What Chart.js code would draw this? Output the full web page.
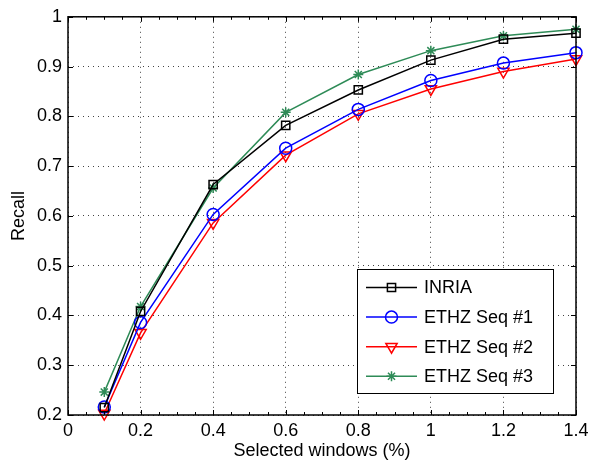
<!DOCTYPE html>
<html><head><meta charset="utf-8">
<script src="https://cdn.jsdelivr.net/npm/chart.js@4/dist/chart.umd.min.js"></script>
<style>html,body{margin:0;padding:0;background:#fff}#wrap{width:597px;height:462px}</style>
</head><body><div id="wrap"><canvas id="c" width="597" height="462"></canvas></div>
<script>
const xValues = [0.1, 0.2, 0.4, 0.6, 0.8, 1.0, 1.2, 1.4];
const inria = [0.215, 0.408, 0.663, 0.782, 0.853, 0.913, 0.955, 0.967];
const ethz1 = [0.216, 0.386, 0.603, 0.736, 0.814, 0.872, 0.907, 0.928];
const ethz2 = [0.203, 0.365, 0.586, 0.722, 0.805, 0.855, 0.890, 0.915];
const ethz3 = [0.246, 0.418, 0.656, 0.808, 0.884, 0.932, 0.962, 0.975];
const seriesNames = ['INRIA', 'ETHZ Seq #1', 'ETHZ Seq #2', 'ETHZ Seq #3'];
const xTicks = [0, 0.2, 0.4, 0.6, 0.8, 1, 1.2, 1.4];
const yTicks = [0.2, 0.3, 0.4, 0.5, 0.6, 0.7, 0.8, 0.9, 1];

const FONT = '"Liberation Sans", Arial, sans-serif';
const FS = 18;
const pts = arr => xValues.map((x, i) => ({x, y: arr[i]}));
const styles = [
  {color: '#000000', pointStyle: 'rect', radius: 5.8, rotation: 0},
  {color: '#0000ff', pointStyle: 'circle', radius: 6, rotation: 0},
  {color: '#ff0000', pointStyle: 'triangle', radius: 6.5, rotation: 180},
  {color: '#2e8b57', pointStyle: 'star', radius: 5, rotation: 0}
];
const allData = [inria, ethz1, ethz2, ethz3];
const datasets = allData.map((d, i) => ({
  label: seriesNames[i],
  data: pts(d),
  borderColor: styles[i].color,
  backgroundColor: 'rgba(0,0,0,0)',
  borderWidth: 1.5,
  pointStyle: styles[i].pointStyle,
  pointRadius: styles[i].radius,
  pointRotation: styles[i].rotation,
  pointBorderWidth: 1.5,
  pointBorderColor: styles[i].color,
  pointBackgroundColor: 'rgba(0,0,0,0)',
  tension: 0,
  clip: false
}));

const framePlugin = {
  id: 'frame',
  afterDatasetsDraw(chart) {
    const ctx = chart.ctx, a = chart.chartArea;
    const xs = chart.scales.x, ys = chart.scales.y;
    ctx.save();
    ctx.strokeStyle = '#000';
    ctx.lineWidth = 1.5;
    ctx.strokeRect(a.left, a.top, a.right - a.left, a.bottom - a.top);
    ctx.lineWidth = 1;
    ctx.beginPath();
    for (let v = 0; v <= 1.4001; v += 0.05) {
      const px = Math.round(xs.getPixelForValue(v)) + 0.5;
      const major = Math.abs(v / 0.2 - Math.round(v / 0.2)) < 1e-6;
      const len = major ? 5 : 3;
      ctx.moveTo(px, a.bottom); ctx.lineTo(px, a.bottom - len);
      ctx.moveTo(px, a.top); ctx.lineTo(px, a.top + len);
    }
    yTicks.forEach(v => {
      const py = Math.round(ys.getPixelForValue(v)) + 0.5;
      ctx.moveTo(a.left, py); ctx.lineTo(a.left + 5, py);
      ctx.moveTo(a.right, py); ctx.lineTo(a.right - 5, py);
    });
    ctx.stroke();

    // legend
    const bw = 196, bh = 124;
    const bx = a.right - 23 - bw, by = a.bottom - 22 - bh;
    ctx.fillStyle = '#fff';
    ctx.fillRect(bx, by, bw, bh);
    ctx.lineWidth = 1;
    ctx.strokeStyle = '#000';
    ctx.strokeRect(bx + 0.5, by + 0.5, bw, bh);
    ctx.font = FS + 'px ' + FONT;
    ctx.textBaseline = 'middle';
    ctx.textAlign = 'left';
    chart.data.datasets.forEach((ds, i) => {
      const cy = by + 18.5 + i * 29.6;
      ctx.strokeStyle = ds.borderColor;
      ctx.lineWidth = 1.5;
      ctx.beginPath();
      ctx.moveTo(bx + 9, cy); ctx.lineTo(bx + 60, cy);
      ctx.stroke();
      ctx.fillStyle = 'rgba(0,0,0,0)';
      Chart.helpers.drawPoint(ctx, {
        pointStyle: ds.pointStyle, radius: ds.pointRadius,
        rotation: ds.pointRotation, borderWidth: 1.5
      }, bx + 34.5, cy);
      ctx.fillStyle = '#000';
      ctx.fillText(ds.label, bx + 67, cy + 1);
    });
    ctx.restore();
  }
};

new Chart(document.getElementById('c'), {
  type: 'line',
  data: {datasets},
  options: {
    responsive: false,
    animation: false,
    layout: {padding: {left: 0, right: 21, top: 16, bottom: 0}},
    plugins: {legend: {display: false}, tooltip: {enabled: false}},
    scales: {
      x: {
        type: 'linear', min: 0, max: 1.4,
        afterBuildTicks: s => { s.ticks = xTicks.map(v => ({value: v})); },
        afterFit: s => { s.height = 47; },
        grid: {color: '#444', lineWidth: 1, drawTicks: false},
        border: {display: false, dash: [1, 4]},
        ticks: {color: '#000', font: {family: FONT, size: FS}, padding: 5, maxRotation: 0,
          callback: v => String(Math.round(v * 10) / 10)},
        title: {display: true, text: 'Selected windows (%)', color: '#000',
          font: {family: FONT, size: FS}, padding: {top: 0, bottom: 0}}
      },
      y: {
        type: 'linear', min: 0.2, max: 1,
        afterBuildTicks: s => { s.ticks = yTicks.map(v => ({value: v})); },
        afterFit: s => { s.width = 68; },
        grid: {color: '#444', lineWidth: 1, drawTicks: false},
        border: {display: false, dash: [1, 4]},
        ticks: {color: '#000', font: {family: FONT, size: FS}, padding: 6,
          callback: v => String(Math.round(v * 10) / 10)},
        title: {display: true, text: 'Recall', color: '#000',
          font: {family: FONT, size: FS}, padding: {top: 8, bottom: 0}}
      }
    }
  },
  plugins: [framePlugin]
});
</script></body></html>
